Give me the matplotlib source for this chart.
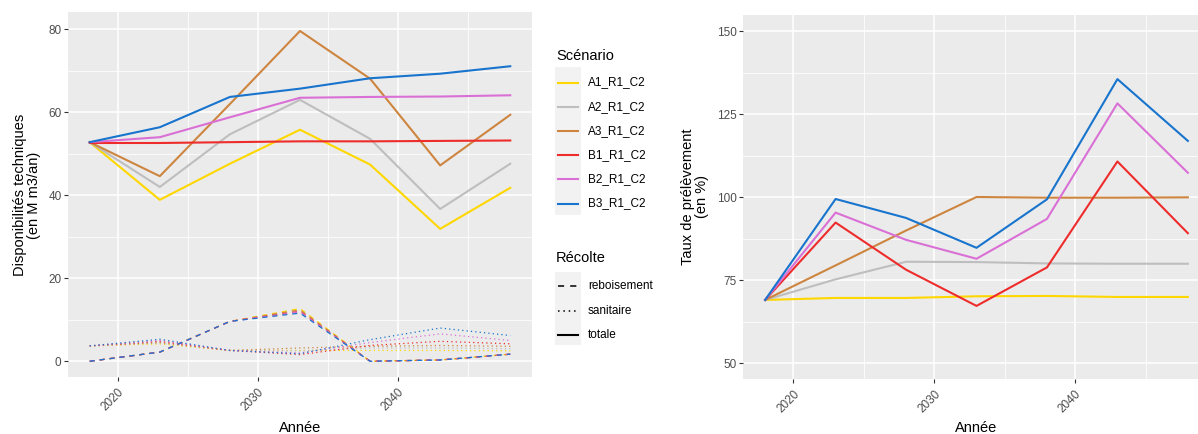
import matplotlib
matplotlib.use("Agg")
import matplotlib.pyplot as plt
from matplotlib.lines import Line2D
from matplotlib.patches import Rectangle
from matplotlib.ticker import MultipleLocator

plt.rcParams['font.family'] = ['Liberation Sans', 'DejaVu Sans']

# --- donnees ---
annees = [2018, 2023, 2028, 2033, 2038, 2043, 2048]
scenarios = ["A1_R1_C2", "A2_R1_C2", "A3_R1_C2", "B1_R1_C2", "B2_R1_C2", "B3_R1_C2"]
couleurs = ["#FFD700", "#BEBEBE", "#CD853F", "#EE2C2C", "#DA70D6", "#1874CD"]
recoltes = ["reboisement", "sanitaire", "totale"]

# disponibilites techniques (M m3/an), recolte totale
dispo_totale = [
    [52.8, 38.9, 47.6, 55.8, 47.4, 31.9, 41.8],
    [52.8, 42.0, 54.7, 63.0, 53.6, 36.7, 47.6],
    [52.8, 44.6, 62.0, 79.6, 68.1, 47.2, 59.4],
    [52.6, 52.6, 52.8, 53.0, 53.0, 53.1, 53.2],
    [52.8, 54.0, 58.8, 63.5, 63.7, 63.8, 64.1],
    [52.8, 56.4, 63.7, 65.7, 68.2, 69.3, 71.1],
]
# recolte reboisement
dispo_reboisement = [
    [0.0, 2.2, 9.6, 12.7, 0.0, 0.3, 1.7],
    [0.0, 2.2, 9.6, 12.2, 0.0, 0.3, 1.7],
    [0.0, 2.2, 9.6, 12.4, 0.0, 0.3, 1.7],
    [0.0, 2.2, 9.6, 12.0, 0.0, 0.3, 1.7],
    [0.0, 2.2, 9.6, 11.9, 0.0, 0.3, 1.7],
    [0.0, 2.2, 9.6, 11.6, 0.0, 0.3, 1.7],
]
# recolte sanitaire
dispo_sanitaire = [
    [3.7, 4.2, 2.6, 2.6, 2.6, 2.6, 2.5],
    [3.7, 4.4, 2.6, 2.5, 3.2, 3.2, 3.0],
    [3.7, 4.5, 2.6, 3.2, 3.6, 3.8, 3.6],
    [3.7, 4.8, 2.6, 1.6, 3.8, 4.8, 4.2],
    [3.7, 5.0, 2.6, 2.0, 4.5, 6.6, 5.0],
    [3.7, 5.3, 2.6, 1.8, 5.2, 8.0, 6.2],
]
# taux de prelevement (%)
taux = [
    [69.1, 69.7, 69.7, 70.2, 70.3, 70.0, 70.0],
    [69.1, 75.3, 80.6, 80.5, 80.1, 80.0, 80.0],
    [69.1, 79.5, 90.0, 100.1, 99.9, 99.9, 100.0],
    [69.1, 92.4, 78.2, 67.3, 78.9, 110.8, 89.2],
    [69.1, 95.4, 87.2, 81.5, 93.5, 128.3, 107.4],
    [69.1, 99.5, 93.8, 84.8, 99.4, 135.6, 117.0],
]

W, H = 1198, 434
PT = 0.96  # ggplot pt -> matplotlib pt a 100 dpi
styles = {"reboisement": (0, (4, 4)), "sanitaire": (0, (1, 2.5)), "totale": "solid"}


def fx(x):
    return x / W


def fy(y):
    return 1 - y / H


def style_axe(ax):
    ax.set_facecolor("#EBEBEB")
    for s in ax.spines.values():
        s.set_visible(False)
    ax.grid(which="major", color="white", lw=1.1)
    ax.grid(which="minor", color="white", lw=0.55)
    ax.set_axisbelow(True)
    ax.xaxis.set_major_locator(MultipleLocator(10))
    ax.xaxis.set_minor_locator(MultipleLocator(5))
    ax.tick_params(which="major", length=2.7, width=0.8, color="#333333",
                   labelcolor="#4D4D4D", labelsize=8.8 * PT, pad=2)
    ax.tick_params(which="minor", length=0)
    ax.tick_params(axis="x", pad=3.5)
    for lab in ax.get_xticklabels():
        lab.set_rotation(45)
        lab.set_ha("right")
        lab.set_va("top")
        lab.set_rotation_mode("anchor")


fig = plt.figure(figsize=(W / 100, H / 100), dpi=100)
ax1 = fig.add_axes([fx(68), fy(377), fx(532 - 68), (377 - 12.3) / H])
ax2 = fig.add_axes([fx(743.3), fy(379.3), fx(1209 - 743.3), (379.3 - 14.7) / H])

# panneau gauche : disponibilites
for i, sc in enumerate(scenarios):
    ax1.plot(annees, dispo_sanitaire[i], color=couleurs[i], lw=0.9, ls=styles["sanitaire"])
    ax1.plot(annees, dispo_reboisement[i], color=couleurs[i], lw=0.9, ls=styles["reboisement"])
for i, sc in enumerate(scenarios):
    ax1.plot(annees, dispo_totale[i], color=couleurs[i], lw=1.5)
ax1.set_xlim(2016.45, 2049.55)
ax1.set_ylim(-3.8, 84.1)
ax1.yaxis.set_major_locator(MultipleLocator(20))
ax1.yaxis.set_minor_locator(MultipleLocator(10))
style_axe(ax1)

# panneau droit : taux de prelevement
for i, sc in enumerate(scenarios):
    ax2.plot(annees, taux[i], color=couleurs[i], lw=1.5)
ax2.set_xlim(2016.45, 2049.5)
ax2.set_ylim(45.2, 155.0)
ax2.yaxis.set_major_locator(MultipleLocator(25))
ax2.yaxis.set_minor_locator(MultipleLocator(12.5))
style_axe(ax2)

# titres des axes
fig.text(fx(27), fy(195), "Disponibilités techniques\n(en M m3/an)", rotation=90,
         ha="center", va="center", ma="center", fontsize=11 * PT, linespacing=0.95)
fig.text(fx(695), fy(197), "Taux de prélèvement\n(en %)", rotation=90,
         ha="center", va="center", ma="center", fontsize=11 * PT, linespacing=0.95)
fig.text(fx(300), fy(432.5), "Année", ha="center", va="baseline", fontsize=11 * PT)
fig.text(fx(976), fy(432.5), "Année", ha="center", va="baseline", fontsize=11 * PT)

# legende Scenario
fig.text(fx(556), fy(56), "Scénario", ha="left", va="center", fontsize=11 * PT)
fig.add_artist(Rectangle((fx(555), fy(215)), fx(26), (215 - 67) / H,
                         transform=fig.transFigure, color="#F2F2F2", lw=0))
for i, sc in enumerate(scenarios):
    y = 82.5 + i * 24.2
    fig.add_artist(Line2D([fx(558), fx(578)], [fy(y), fy(y)], transform=fig.transFigure,
                          color=couleurs[i], lw=1.5))
    fig.text(fx(588), fy(y), sc, ha="left", va="center", fontsize=8.8 * PT)

# legende Recolte
fig.text(fx(556), fy(258), "Récolte", ha="left", va="center", fontsize=11 * PT)
fig.add_artist(Rectangle((fx(555), fy(345)), fx(26), (345 - 272) / H,
                         transform=fig.transFigure, color="#F2F2F2", lw=0))
for j, rc in enumerate(recoltes):
    y = 286 + j * 24.5
    fig.add_artist(Line2D([fx(558), fx(578)], [fy(y), fy(y)], transform=fig.transFigure,
                          color="black", lw=1.1 if rc != "totale" else 1.5, ls=styles[rc]))
    fig.text(fx(588), fy(y), rc, ha="left", va="center", fontsize=8.8 * PT)

fig.savefig("out.png", dpi=100)
